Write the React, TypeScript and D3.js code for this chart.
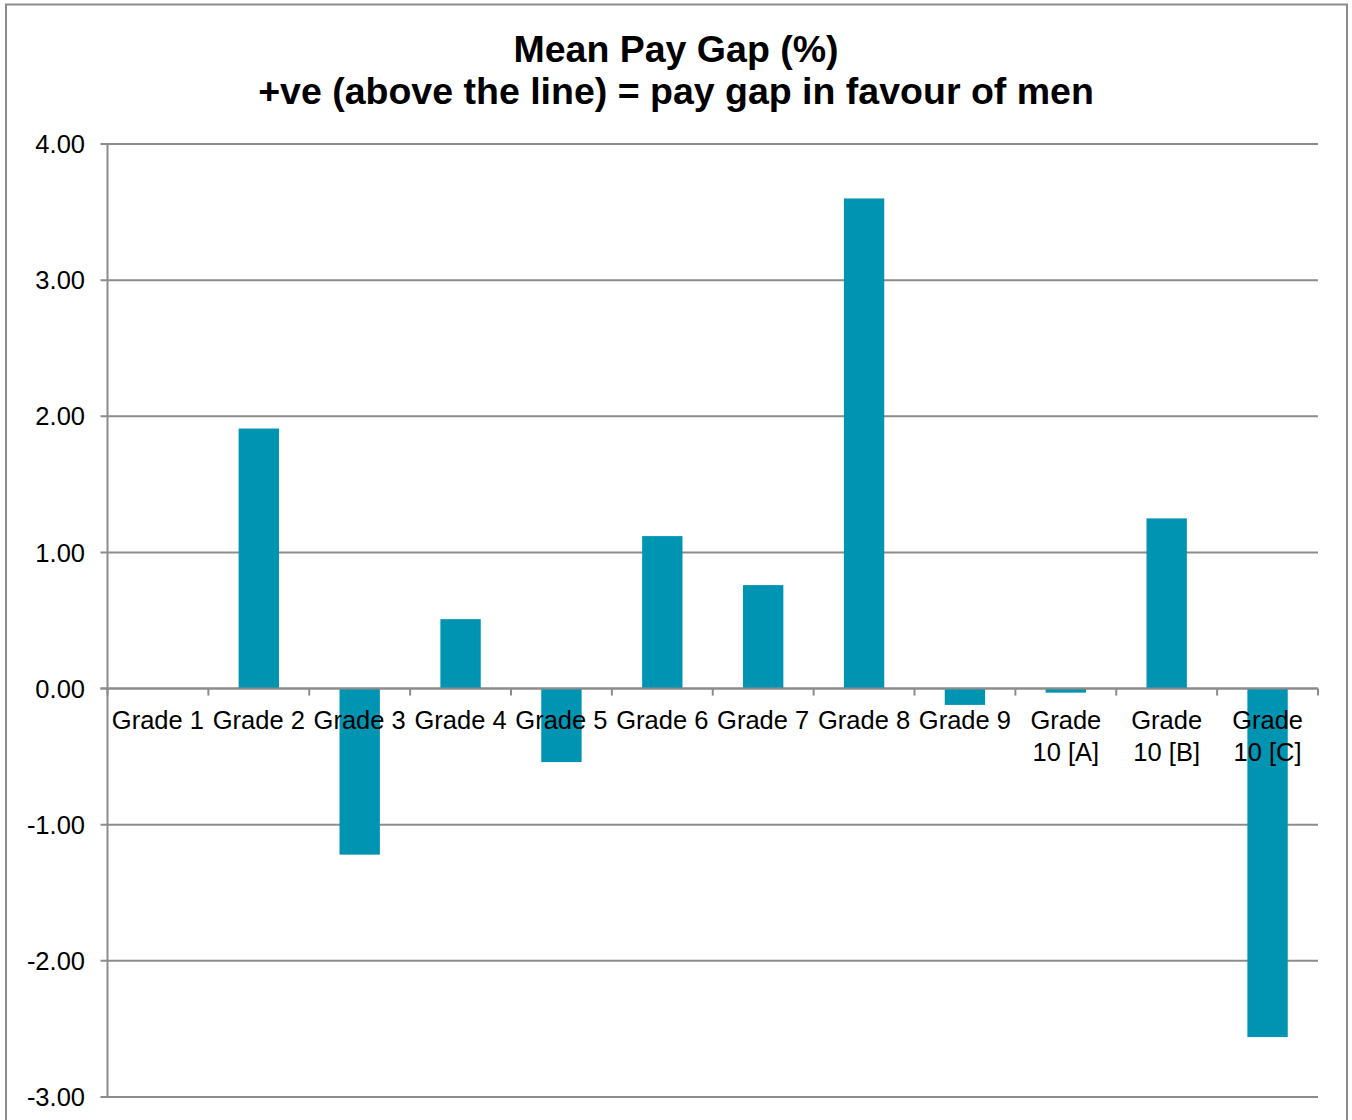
import React, { useRef, useEffect } from 'react'
import * as d3 from 'd3'

const grades = ['Grade 1', 'Grade 2', 'Grade 3', 'Grade 4', 'Grade 5', 'Grade 6', 'Grade 7', 'Grade 8', 'Grade 9', 'Grade 10 [A]', 'Grade 10 [B]', 'Grade 10 [C]']
const meanGap = [0, 1.91, -1.22, 0.51, -0.54, 1.12, 0.76, 3.6, -0.12, -0.03, 1.25, -2.56]
const yTicks = [4, 3, 2, 1, 0, -1, -2, -3]
const titleLines = ['Mean Pay Gap (%)', '+ve (above the line) = pay gap in favour of men']

export default function App() {
  const canvas = useRef<SVGSVGElement>(null)

  const W = 1352
  const H = 1120
  const margin = { top: 144, right: 34, bottom: 23, left: 107.5 }
  const grey = '#8c8c8c'
  const font = '"Liberation Sans", Arial, sans-serif'

  useEffect(() => {
    const svg = d3.select(canvas.current)
    svg.selectAll('*').remove()

    // chart border
    svg.append('rect').attr('x', 6).attr('y', 4.5).attr('width', 1341).attr('height', 1130)
      .attr('fill', 'white').attr('stroke', grey).attr('stroke-width', 2)

    const x = d3.scaleBand().domain(grades).range([margin.left, W - margin.right]).paddingInner(0.6).paddingOuter(0.3)
    const y = d3.scaleLinear().domain([-3, 4]).range([H - margin.bottom, margin.top])

    const title = svg.append('text').attr('text-anchor', 'middle').attr('font-family', font)
      .attr('font-weight', 'bold').attr('font-size', 37.5).attr('fill', 'black')
    titleLines.forEach((t, i) => {
      title.append('tspan').attr('x', 676).attr('y', 62 + i * 42).text(t)
    })

    // gridlines
    svg.append('g').selectAll('line').data(yTicks).enter().append('line')
      .attr('x1', margin.left - 7).attr('x2', W - margin.right)
      .attr('y1', d => y(d)).attr('y2', d => y(d))
      .attr('stroke', grey).attr('stroke-width', 2)

    // y axis
    svg.append('line').attr('x1', margin.left).attr('x2', margin.left)
      .attr('y1', y(4)).attr('y2', y(-3)).attr('stroke', grey).attr('stroke-width', 2)

    svg.append('g').selectAll('text').data(yTicks).enter().append('text')
      .attr('x', 85).attr('y', d => y(d)).attr('dy', '0.36em')
      .attr('text-anchor', 'end').attr('font-family', font).attr('font-size', 25.5)
      .text(d => d.toFixed(2))

    // bars
    svg.append('g').selectAll('rect').data(meanGap).enter().append('rect')
      .attr('x', (d, i) => x(grades[i]) as number)
      .attr('width', x.bandwidth())
      .attr('y', d => y(Math.max(0, d)))
      .attr('height', d => Math.abs(y(d) - y(0)))
      .attr('fill', '#0094b3')

    // zero line + category ticks
    svg.append('line').attr('x1', margin.left - 7).attr('x2', W - margin.right)
      .attr('y1', y(0)).attr('y2', y(0)).attr('stroke', grey).attr('stroke-width', 2)
    const step = x.step()
    const bounds = d3.range(grades.length + 1).map(i => margin.left + i * step)
    svg.append('g').selectAll('line').data(bounds).enter().append('line')
      .attr('x1', d => d).attr('x2', d => d)
      .attr('y1', y(0)).attr('y2', y(0) + 7)
      .attr('stroke', grey).attr('stroke-width', 2)

    // category labels, wrapped to the category width
    const labels = svg.append('g').selectAll('text').data(grades).enter().append('text')
      .attr('text-anchor', 'middle').attr('font-family', font).attr('font-size', 25.5).attr('fill', 'black')
    labels.each(function (d) {
      const el = d3.select(this)
      const cx = (x(d) as number) + x.bandwidth() / 2
      const words = d.split(' ')
      let line: string[] = []
      let lineNo = 0
      let tspan = el.append('tspan').attr('x', cx).attr('y', 729)
      words.forEach(w => {
        line.push(w)
        tspan.text(line.join(' '))
        if ((tspan.node() as SVGTSpanElement).getComputedTextLength() > step - 2 && line.length > 1) {
          line.pop()
          tspan.text(line.join(' '))
          line = [w]
          lineNo++
          tspan = el.append('tspan').attr('x', cx).attr('y', 729 + lineNo * 31.5).text(w)
        }
      })
    })
  })

  return (
    <svg ref={canvas} width={W} height={H} style={{ position: 'absolute', left: 0, top: 0, display: 'block' }} />
  )
}
